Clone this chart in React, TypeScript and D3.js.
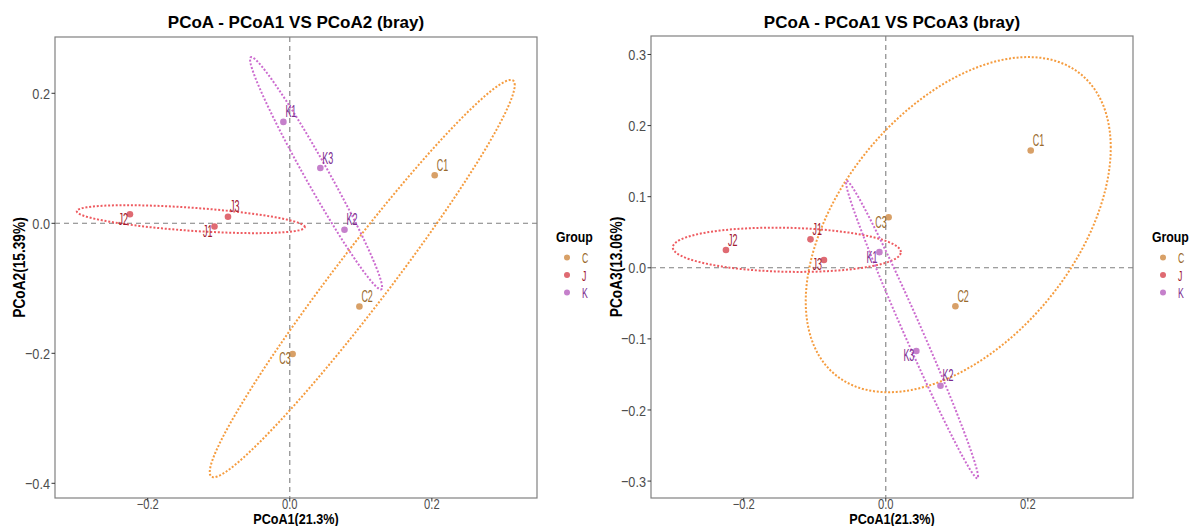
import React from "react";
import * as d3 from "d3";

// sample scores
const samples = ["C1", "C2", "C3", "J1", "J2", "J3", "K1", "K2", "K3"];
const sampleGroup = ["C", "C", "C", "J", "J", "J", "K", "K", "K"];
const pcoa1 = [0.204, 0.098, 0.004, -0.106, -0.225, -0.087, -0.009, 0.077, 0.043];
const pcoa2 = [0.074, -0.128, -0.201, -0.005, 0.014, 0.01, 0.156, -0.01, 0.085];
const pcoa3 = [0.165, -0.054, 0.071, 0.04, 0.025, 0.011, 0.022, -0.166, -0.117];
const groups = ["C", "J", "K"];

// axes
const xTicks = [-0.2, 0.0, 0.2];
const yTicks12 = [0.2, 0.0, -0.2, -0.4];
const yTicks13 = [0.3, 0.2, 0.1, 0.0, -0.1, -0.2, -0.3];

// which side each sample label sits on (r = above right, l = below left)
const labelSide12 = ["r", "r", "l", "l", "l", "r", "r", "r", "r"];
const labelSide13 = ["r", "r", "l", "r", "r", "l", "l", "r", "l"];

const dotColor: Record<string, string> = { C: "#d8a067", J: "#df6a72", K: "#c580cb" };
const textColor: Record<string, string> = { C: "#9a6a2c", J: "#a11a30", K: "#7c2b8f" };
const ringColor: Record<string, string> = { C: "#f59c3f", J: "#ee5b60", K: "#cc6ccf" };

const sans = "'Liberation Sans', Arial, sans-serif";

// normal-theory confidence ellipse around the group mean
function ellipse(xs: number[], ys: number[], level = 0.9, n = 120): [number, number][] {
  const k = xs.length;
  const mx = d3.mean(xs)!;
  const my = d3.mean(ys)!;
  let sxx = 0, syy = 0, sxy = 0;
  for (let i = 0; i < k; i++) {
    sxx += (xs[i] - mx) ** 2;
    syy += (ys[i] - my) ** 2;
    sxy += (xs[i] - mx) * (ys[i] - my);
  }
  sxx /= k - 1; syy /= k - 1; sxy /= k - 1;
  const l11 = Math.sqrt(sxx);
  const l21 = sxy / l11;
  const l22 = Math.sqrt(Math.max(syy - l21 * l21, 0));
  const r = Math.sqrt(-2 * Math.log(1 - level));
  return d3.range(n).map((i) => {
    const t = (i / n) * 2 * Math.PI;
    const a = Math.cos(t) * r, b = Math.sin(t) * r;
    return [mx + l11 * a, my + l21 * a + l22 * b];
  });
}

// condensed text: horizontally squeezed sans
const NText = ({ x, y, sx = 0.82, rotate = 0, children, ...rest }: any) => (
  <text
    transform={`translate(${x},${y})${rotate ? ` rotate(${rotate})` : ""} scale(${sx},1)`}
    fontFamily={sans}
    {...rest}
  >
    {children}
  </text>
);

type PanelProps = {
  x0: number; x1: number; y0: number; y1: number;
  title: string; yTitle: string; yTitleX: number;
  ys: number[]; yDomain: [number, number]; yTicks: number[];
  sides: string[];
};

const Panel = ({ x0, x1, y0, y1, title, yTitle, yTitleX, ys, yDomain, yTicks, sides }: PanelProps) => {
  const xScale = d3.scaleLinear().domain([-0.3305, 0.348]).range([x0, x1]);
  const yScale = d3.scaleLinear().domain(yDomain).range([y1, y0]);
  const ringLine = d3
    .line<[number, number]>()
    .x((d) => xScale(d[0]))
    .y((d) => yScale(d[1]))
    .curve(d3.curveLinearClosed);
  const cx = (x0 + x1) / 2;
  const cy = (y0 + y1) / 2;
  const fmt = d3.format(".1f");

  return (
    <g>
      <text x={cx} y={28} textAnchor="middle" fontFamily={sans} fontWeight="bold" fontSize={17}>
        {title}
      </text>

      {/* zero lines */}
      <line x1={x0} x2={x1} y1={yScale(0)} y2={yScale(0)} stroke="#7f7f7f" strokeWidth={1.1} strokeDasharray="5 4" />
      <line x1={xScale(0)} x2={xScale(0)} y1={y0} y2={y1} stroke="#7f7f7f" strokeWidth={1.1} strokeDasharray="5 4" />

      {/* points */}
      {samples.map((s, i) => (
        <circle key={s} cx={xScale(pcoa1[i])} cy={yScale(ys[i])} r={3.3} fill={dotColor[sampleGroup[i]]} />
      ))}

      {/* ellipses */}
      {groups.map((g) => {
        const idx = d3.range(samples.length).filter((i) => sampleGroup[i] === g);
        const pts = ellipse(idx.map((i) => pcoa1[i]), idx.map((i) => ys[i]));
        return (
          <path key={g} d={ringLine(pts) || ""} fill="none" stroke={ringColor[g]} strokeWidth={2} strokeDasharray="2 1.8" />
        );
      })}

      {/* sample labels */}
      {samples.map((s, i) => {
        const px = xScale(pcoa1[i]);
        const py = yScale(ys[i]);
        const right = sides[i] === "r";
        return (
          <NText
            key={s}
            x={right ? px + 2 : px - 2}
            y={right ? py - 4.5 : py + 10.5}
            sx={0.56}
            textAnchor={right ? "start" : "end"}
            fontSize={16}
            fill={textColor[sampleGroup[i]]}
          >
            {s}
          </NText>
        );
      })}

      {/* panel border */}
      <rect x={x0} y={y0} width={x1 - x0} height={y1 - y0} fill="none" stroke="#808080" strokeWidth={1.2} />

      {/* y axis */}
      {yTicks.map((t) => (
        <g key={t}>
          <line x1={x0 - 3.5} x2={x0} y1={yScale(t)} y2={yScale(t)} stroke="#333" strokeWidth={1} />
          <NText x={x0 - 5} y={yScale(t)} dy="0.36em" textAnchor="end" fontSize={15.5} fill="#4d4d4d">
            {fmt(t)}
          </NText>
        </g>
      ))}

      {/* x axis */}
      {xTicks.map((t) => (
        <g key={t}>
          <line x1={xScale(t)} x2={xScale(t)} y1={y1} y2={y1 + 3.5} stroke="#333" strokeWidth={1} />
          <NText x={xScale(t)} y={508.5} sx={0.8} textAnchor="middle" fontSize={14} fill="#4d4d4d">
            {fmt(t)}
          </NText>
        </g>
      ))}

      <NText x={cx} y={524} sx={0.87} textAnchor="middle" fontWeight="bold" fontSize={14.5}>
        PCoA1(21.3%)
      </NText>
      <NText
        x={yTitleX}
        y={cy}
        rotate={-90}
        sx={0.83}
        textAnchor="middle"
        dy="0.36em"
        fontWeight="bold"
        fontSize={16.5}
      >
        {yTitle}
      </NText>

      {/* legend */}
      <NText x={x1 + 19} y={241.5} fontWeight="bold" fontSize={15}>
        Group
      </NText>
      {groups.map((g, i) => (
        <g key={g}>
          <circle cx={x1 + 30} cy={257.5 + i * 17.5} r={3} fill={dotColor[g]} />
          <NText x={x1 + 45} y={257.5 + i * 17.5 + 5.5} sx={0.58} fontSize={15} fill={textColor[g]}>
            {g}
          </NText>
        </g>
      ))}
    </g>
  );
};

export default function App() {
  return (
    <svg width={1189} height={526} style={{ position: "absolute", left: 0, top: 0, background: "#fff" }}>
      <Panel
        x0={55} x1={537} y0={37} y1={498}
        title="PCoA - PCoA1 VS PCoA2 (bray)"
        yTitle="PCoA2(15.39%)" yTitleX={19}
        ys={pcoa2} yDomain={[-0.4226, 0.2866]} yTicks={yTicks12}
        sides={labelSide12}
      />
      <Panel
        x0={651} x1={1133} y0={36} y1={498}
        title="PCoA - PCoA1 VS PCoA3 (bray)"
        yTitle="PCoA3(13.06%)" yTitleX={616}
        ys={pcoa3} yDomain={[-0.3238, 0.326]} yTicks={yTicks13}
        sides={labelSide13}
      />
    </svg>
  );
}
